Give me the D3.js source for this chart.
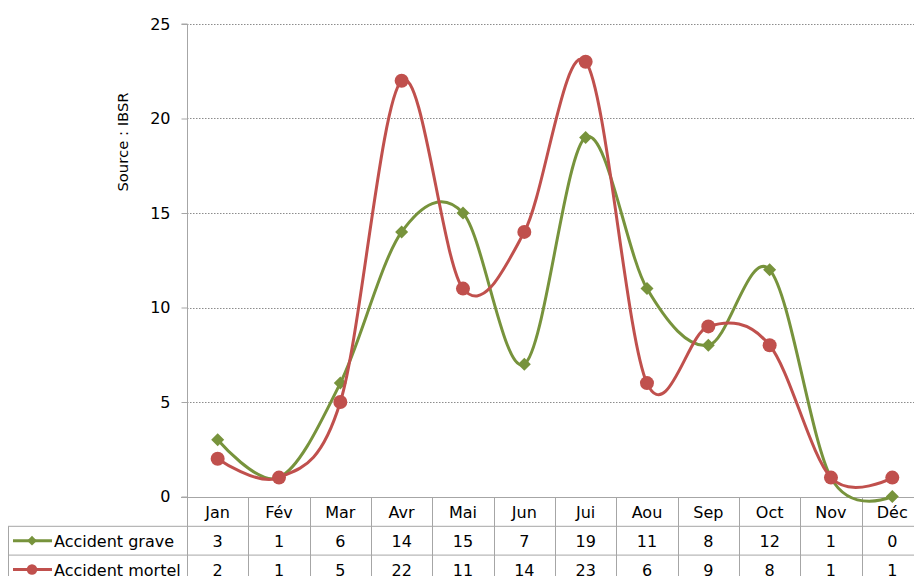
<!DOCTYPE html>
<html>
<head>
<meta charset="utf-8">
<script src="https://cdn.jsdelivr.net/npm/d3@7"></script>
<style>
  html, body { margin: 0; padding: 0; background: #fff; }
  svg { display: block; font-family: "DejaVu Sans", Verdana, sans-serif; }
</style>
</head>
<body>
<svg id="chart" width="914" height="576"></svg>
<script>
// Monthly counts
const months = ["Jan", "Fév", "Mar", "Avr", "Mai", "Jun", "Jui", "Aou", "Sep", "Oct", "Nov", "Déc"];
const accidentGrave  = [3, 1, 6, 14, 15, 7, 19, 11, 8, 12, 1, 0];
const accidentMortel = [2, 1, 5, 22, 11, 14, 23, 6, 9, 8, 1, 1];
const yTicks = [0, 5, 10, 15, 20, 25];

const series = [
  { name: "Accident grave",  values: accidentGrave,  color: "#77933C", marker: "diamond" },
  { name: "Accident mortel", values: accidentMortel, color: "#C0504D", marker: "circle" }
];

const W = 914, H = 576;
const plotLeft = 187, plotTop = 24, plotBottom = 496.5;
const bandW = 61.33;
const rowH = 28.8;
const legendLeft = 8;
const gridColor = "#a6a6a6";

const svg = d3.select("#chart");

const x = d3.scaleBand().domain(months).range([plotLeft, plotLeft + bandW * months.length]).paddingInner(0).paddingOuter(0);
const y = d3.scaleLinear().domain([0, 25]).range([plotBottom, plotTop]);

// Horizontal gridlines (dotted)
svg.append("g").selectAll("line")
  .data(yTicks.filter(d => d > 0))
  .join("line")
  .attr("x1", plotLeft).attr("x2", W)
  .attr("y1", d => Math.round(y(d)) + 0.5).attr("y2", d => Math.round(y(d)) + 0.5)
  .attr("stroke", "#8c8c8c").attr("stroke-width", 1)
  .attr("stroke-dasharray", "1.5,1.5");

// Y axis
const yAxis = d3.axisLeft(y).tickValues(yTicks).tickSize(6).tickPadding(11);
const gy = svg.append("g").attr("transform", `translate(${plotLeft + 0.5},0)`).call(yAxis);
gy.select(".domain").attr("stroke", gridColor).attr("d", `M-6,${y(25)}H0V${H}`);
gy.selectAll(".tick line").attr("stroke", gridColor);
gy.selectAll(".tick text").attr("font-size", 16).attr("fill", "#000")
  .attr("font-family", "\"DejaVu Sans\", Verdana, sans-serif");

// Axis title
svg.append("text")
  .attr("transform", "translate(127.5,142) rotate(-90)")
  .attr("text-anchor", "middle")
  .attr("font-size", 14.8)
  .attr("fill", "#000")
  .text("Source : IBSR");

// Data table
const tbl = svg.append("g").attr("stroke", gridColor).attr("stroke-width", 1);
const r0 = Math.round(plotBottom) + 0.5;
const r1 = r0 + rowH, r2 = r1 + rowH;
tbl.append("line").attr("x1", plotLeft - 6).attr("x2", W).attr("y1", r0).attr("y2", r0);
[r1, r2].forEach(r => tbl.append("line").attr("x1", legendLeft).attr("x2", W).attr("y1", r).attr("y2", r));
tbl.append("line").attr("x1", legendLeft + 0.5).attr("x2", legendLeft + 0.5).attr("y1", r1).attr("y2", H);
months.forEach(m => {
  const xx = Math.round(x(m)) + 0.5;
  tbl.append("line").attr("x1", xx).attr("x2", xx).attr("y1", r0).attr("y2", H);
});

svg.append("g").selectAll("text")
  .data(months)
  .join("text")
  .attr("x", d => x(d) + x.bandwidth() / 2)
  .attr("y", r0 + rowH / 2 + 6)
  .attr("text-anchor", "middle")
  .attr("font-size", 16)
  .text(d => d);

function drawMarker(g, type, cx, cy, color, k) {
  if (type === "diamond") {
    const r = 6.5 * k;
    g.append("path")
      .attr("d", `M${cx},${cy - r}L${cx + r},${cy}L${cx},${cy + r}L${cx - r},${cy}Z`)
      .attr("fill", color);
  } else {
    g.append("circle").attr("cx", cx).attr("cy", cy).attr("r", 7 * k).attr("fill", color);
  }
}

series.forEach((s, i) => {
  const rowTop = r1 + i * rowH;
  const cy = rowTop + rowH / 2;
  svg.append("g").selectAll("text")
    .data(s.values)
    .join("text")
    .attr("x", (d, j) => x(months[j]) + x.bandwidth() / 2)
    .attr("y", cy + 6)
    .attr("text-anchor", "middle")
    .attr("font-size", 16)
    .text(d => d);
  // legend key
  svg.append("line")
    .attr("x1", 13).attr("x2", 52).attr("y1", cy).attr("y2", cy)
    .attr("stroke", s.color).attr("stroke-width", 3);
  drawMarker(svg, s.marker, 32, cy, s.color, 0.75);
  svg.append("text")
    .attr("x", 54).attr("y", cy + 6)
    .attr("font-size", 16)
    .text(s.name);
});

// Smoothed series lines with markers
const line = d3.line()
  .x((d, j) => x(months[j]) + x.bandwidth() / 2)
  .y(d => y(d))
  .curve(d3.curveCatmullRom.alpha(0));

series.forEach(s => {
  const g = svg.append("g");
  g.append("path")
    .datum(s.values)
    .attr("d", line)
    .attr("fill", "none")
    .attr("stroke", s.color)
    .attr("stroke-width", 3)
    .attr("stroke-linejoin", "round");
  s.values.forEach((v, j) => drawMarker(g, s.marker, x(months[j]) + x.bandwidth() / 2, y(v), s.color, 1));
});
</script>
</body>
</html>
